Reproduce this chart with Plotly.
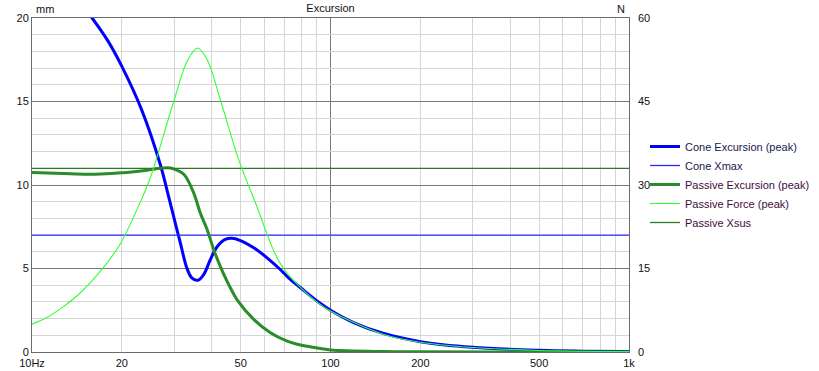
import plotly.graph_objects as go

# ---- data ----
cone_freq = [10, 12.5, 15.9, 18, 20, 23.3, 26.9, 28.3, 29.8, 31.4, 33.0, 34.3, 35.9,
             37.6, 39.6, 41.7, 44.4, 47.4, 51.2, 55.3, 61.3, 67.9, 72.4, 80, 92.6,
             100, 120, 150, 200, 300, 500, 700, 1000]
cone_exc = [24.3, 22.4, 20.0, 18.6, 17.1, 14.5, 11.23, 9.73, 8.13, 6.54, 5.04, 4.44, 4.30,
            4.64, 5.54, 6.30, 6.74, 6.80, 6.58, 6.24, 5.64, 4.94, 4.44, 3.8, 2.9,
            2.5, 1.75, 1.12, 0.62, 0.28, 0.1, 0.05, 0.025]

passive_freq = [10, 12, 15, 17, 20, 22, 24.3, 26.9, 28.3, 29.8, 32.3, 34.8, 36.6, 38.6,
                40.6, 42.7, 45.0, 46.5, 48.6, 55.3, 62.9, 71.6, 80, 92.6, 100, 150,
                200, 500, 1000]
passive_exc = [10.75, 10.7, 10.65, 10.66, 10.73, 10.8, 10.89, 11.0, 11.03, 10.97, 10.63,
               9.53, 8.34, 7.34, 6.14, 5.14, 4.24, 3.74, 3.14, 1.95, 1.15, 0.65, 0.4,
               0.21, 0.12, 0.025, 0.008, 0.0005, 0.0]

force_freq = [10, 11.3, 12.7, 14.5, 17.3, 19.7, 23.0, 24.9, 30.0, 33.2, 35.9, 38.7,
              42.7, 49.2, 52.5, 56.8, 60.5, 65.4, 70, 75, 80.4, 90, 100, 150,
              200, 300, 500, 1000]
force_n = [5.0, 6.3, 8.1, 10.6, 15.1, 19.3, 26.8, 31.3, 45.4, 52.4, 54.6, 52.4,
           45.4, 34.6, 30.6, 26.0, 22.0, 17.5, 14.8, 12.9, 11.3, 9.0, 7.35, 3.2,
           1.75, 0.8, 0.28, 0.07]

xmax_freq = [10, 1000]
cone_xmax = [7, 7]
xsus_freq = [10, 1000]
passive_xsus = [11, 11]

x_tickvals = [10, 20, 50, 100, 200, 500, 1000]
x_ticktext = ["10Hz", "20", "50", "100", "200", "500", "1k"]
x_minor_grid = [20, 30, 40, 50, 60, 70, 80, 90, 200, 300, 400, 500, 600, 700, 800, 900]
x_major_grid = [100]

# ---- styles ----
FONT = "Liberation Sans, Arial, sans-serif"
TXT = "#111111"
CONE_TXT = "#18184e"
PASS_TXT = "#3e0c3e"
BORDER = "#6b6b6b"
MAJOR = "#7a7a7a"
MINOR = "#d6d6d6"

fig = go.Figure()

fig.add_trace(go.Scatter(
    x=cone_freq, y=cone_exc, mode="lines", line=dict(color="#0000ff", width=3, shape="spline"),
    name=f'<span style="color:{CONE_TXT}">Cone Excursion (peak)</span>'))
fig.add_trace(go.Scatter(
    x=xmax_freq, y=cone_xmax, mode="lines", line=dict(color="#2a2aff", width=1.3),
    name=f'<span style="color:{CONE_TXT}">Cone Xmax</span>'))
fig.add_trace(go.Scatter(
    x=passive_freq, y=passive_exc, mode="lines", line=dict(color="#2a8c2a", width=3, shape="spline"),
    name=f'<span style="color:{PASS_TXT}">Passive Excursion (peak)</span>'))
fig.add_trace(go.Scatter(
    x=force_freq, y=force_n, mode="lines", yaxis="y2",
    line=dict(color="#33ff33", width=1.1, shape="spline", smoothing=1),
    name=f'<span style="color:{PASS_TXT}">Passive Force (peak)</span>'))
fig.add_trace(go.Scatter(
    x=xsus_freq, y=passive_xsus, mode="lines", line=dict(color="#2a7a2a", width=1.3),
    name=f'<span style="color:{PASS_TXT}">Passive Xsus</span>'))

# decade gridline (darker) under traces
for gx in x_major_grid:
    fig.add_shape(type="line", xref="x", yref="paper", x0=gx, x1=gx, y0=0, y1=1,
                  line=dict(color=MAJOR, width=1), layer="below")

fig.update_layout(
    width=819, height=371,
    margin=dict(l=32, r=190, t=18, b=18.5, autoexpand=False),
    paper_bgcolor="white", plot_bgcolor="white",
    font=dict(family=FONT, size=11, color=TXT),
    showlegend=True,
    legend=dict(xref="container", yref="container", x=645 / 819, xanchor="left",
                y=1 - 132 / 371, yanchor="top",
                font=dict(family=FONT, size=11), bgcolor="rgba(0,0,0,0)",
                itemwidth=30, tracegroupgap=0),
    title=dict(text="Excursion", x=0.5, xref="paper", xanchor="center",
               y=1 - 8 / 371, yref="container", yanchor="middle",
               font=dict(family=FONT, size=11, color=TXT)),
    xaxis=dict(type="log", range=[1, 3], tickmode="array", tickvals=x_tickvals,
               ticktext=x_ticktext, showgrid=False, zeroline=False, automargin=False,
               showline=True, mirror=True, linecolor=BORDER, linewidth=1,
               ticks="", ticklabelstandoff=1,
               tickfont=dict(family=FONT, size=11, color=TXT),
               minor=dict(tickmode="array", tickvals=x_minor_grid, showgrid=True,
                          gridcolor=MINOR, gridwidth=1, ticks="")),
    yaxis=dict(range=[0, 20], tickmode="linear", tick0=0, dtick=5, automargin=False,
               showgrid=True, gridcolor=MAJOR, gridwidth=1, zeroline=False,
               showline=True, mirror=True, linecolor=BORDER, linewidth=1,
               ticks="", tickfont=dict(family=FONT, size=11, color=TXT),
               minor=dict(dtick=1, showgrid=True, gridcolor=MINOR, gridwidth=1, ticks="")),
    yaxis2=dict(range=[0, 60], tickmode="linear", tick0=0, dtick=15, automargin=False,
                overlaying="y", side="right", showgrid=False, zeroline=False,
                showline=False, ticks="", ticklabelstandoff=8,
                tickfont=dict(family=FONT, size=11, color=TXT)),
    annotations=[
        dict(text="mm", xref="paper", yref="paper", x=0, y=1, xanchor="left",
             yanchor="bottom", xshift=2, yshift=1, showarrow=False,
             font=dict(family=FONT, size=11, color=TXT)),
        dict(text="N", xref="paper", yref="paper", x=1, y=1, xanchor="right",
             yanchor="bottom", xshift=-2, yshift=1, showarrow=False,
             font=dict(family=FONT, size=11, color=TXT)),
    ],
)

fig.write_html("out.html", config={"displayModeBar": False},
               post_script="document.body.style.margin='0px';"
                           "document.body.style.overflow='hidden';")
